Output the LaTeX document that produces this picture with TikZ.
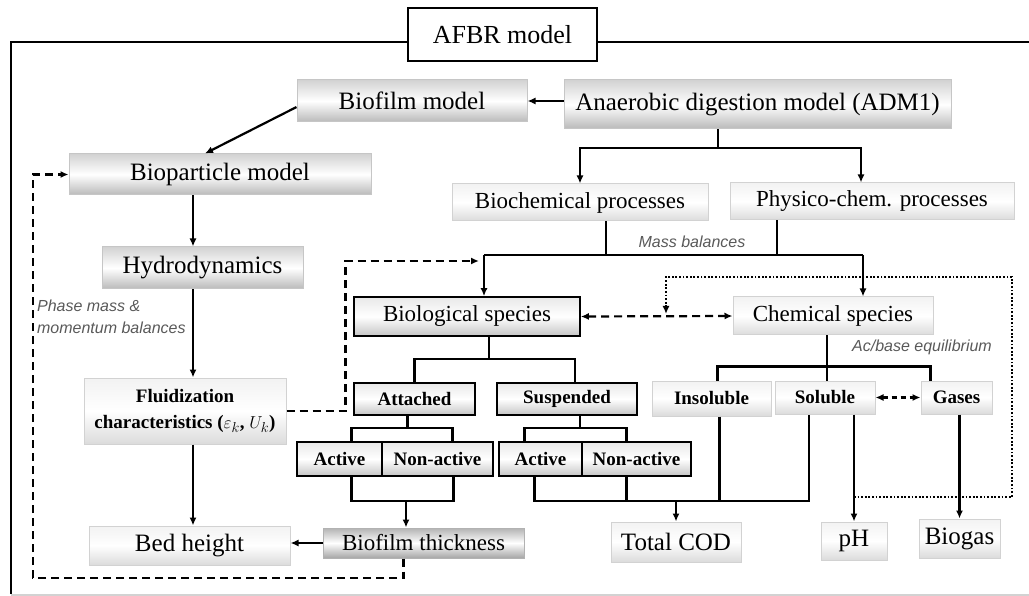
\documentclass[tikz,border=0pt]{standalone}
\usepackage{fontspec}
\setmainfont{Liberation Serif}
\newfontfamily\notefont{Liberation Sans}
\usepackage{amsmath}
\usetikzlibrary{arrows.meta}

\begin{document}
\begin{tikzpicture}[x=1pt, y=-1pt, line width=2.2pt, >={Latex[length=8pt, width=7pt]},
		sz/.style 2 args={minimum width=#1, minimum height=#2, inner sep=0pt, align=center},
		big/.style={font=\fontsize{25}{28}\selectfont},
		mid/.style={font=\fontsize{23}{26}\selectfont},
		sml/.style={font=\fontsize{19}{26}\selectfont\bfseries},
		gbox/.style={draw=gray!45, line width=1pt, top color=gray!35, bottom color=gray!55, middle color=white},
		lbox/.style={draw=gray!35, line width=1pt, top color=gray!10, bottom color=gray!28, middle color=white},
		kbox/.style={draw=black, line width=1.6pt, top color=gray!18, bottom color=gray!45, middle color=white},
		dbox/.style={draw=gray!60, line width=1pt, top color=gray!60, bottom color=gray!70, middle color=white},
		note/.style={font=\notefont\itshape\fontsize{16}{22}\selectfont, text=black!65, inner sep=0pt},
		dsh/.style={dash pattern=on 8pt off 5pt},
		dot/.style={line width=2pt, dash pattern=on 1.8pt off 1.8pt}]
		\useasboundingbox (0,0) rectangle (1029,596);
		\draw[line width=2.6pt] (11,594) -- (11,42) -- (1029,42);
		\draw[gray!35, line width=1.2pt] (11,595) -- (1029,595);
		\node[draw, line width=2.6pt, fill=white, sz={189}{53}, font=\fontsize{26}{30}\selectfont] (title) at (502.5,34.5) {AFBR model};

		\node[gbox, sz={230}{42}, big] (biofilm) at (412,101) {Biofilm model};
		\node[gbox, sz={387}{49}, big] (adm) at (757.5,104.5) {Anaerobic digestion model (ADM1)};
		\node[gbox, sz={302}{41}, big] (biopart) at (220,174.5) {Bioparticle model};
		\node[gbox, sz={201}{42}, big] (hydro) at (202.5,268) {Hydrodynamics};
		\node[lbox, sz={202}{66}, sml] (fluid) at (185,411) {Fluidization\\characteristics ($\varepsilon_k$, $U_k$)};
		\node[lbox, sz={201}{39}, big] (bed) at (189.5,545.5) {Bed height};
		\node[lbox, sz={256}{37}, mid] (biochem) at (580,202.5) {Biochemical processes};
		\node[lbox, sz={284}{37}, mid] (physchem) at (872,201.5) {Physico-chem. processes};
		\node[kbox, sz={226}{39}, mid] (biospec) at (467,316.5) {Biological species};
		\node[lbox, sz={200}{38}, mid] (chemspec) at (833,316) {Chemical species};
		\node[kbox, sz={121}{32}, sml] (attached) at (414.5,399) {Attached};
		\node[kbox, sz={140}{32}, sml] (suspended) at (567,399) {Suspended};
		\node[kbox, sz={85}{34}, sml] (act1) at (339.5,459) {Active};
		\node[kbox, sz={111}{34}, sml] (nonact1) at (437.5,459) {Non-active};
		\node[kbox, sz={83}{34}, sml] (act2) at (540.5,459) {Active};
		\node[kbox, sz={109}{34}, sml] (nonact2) at (636.5,459) {Non-active};
		\node[lbox, sz={119}{35}, sml] (insol) at (711.5,398.5) {Insoluble};
		\node[lbox, sz={100}{33}, sml] (sol) at (825,397.5) {Soluble};
		\node[lbox, sz={71}{33}, sml] (gases) at (956.5,397.5) {Gases};
		\node[dbox, sz={201}{30}, mid] (thick) at (423.5,543) {Biofilm thickness};
		\node[lbox, sz={130}{40}, big] (cod) at (676,542) {Total COD};
		\node[lbox, sz={66}{38}, big] (ph) at (854,541) {pH};
		\node[lbox, sz={81}{39}, big] (biogas) at (959.5,538.5) {Biogas};

		\node[note] (mass) at (692,242) {Mass balances};
		\node[note] (acbase) at (922,347) {Ac/base equilibrium};
		\node[note, anchor=north west, align=left] (phase) at (36,299) {Phase mass \&\\momentum balances};

		\coordinate (lcol) at (193,0);
		\coordinate (admj) at (718,148);
		\coordinate (mbl) at (484,255);
		\coordinate (mbr) at (863,255);
		\coordinate (fb) at (479,261);
		\coordinate (dt) at (666,314);
		\coordinate (tj) at (406,501);
		\coordinate (cj) at (676,501);

		\draw[->] (adm.west |- biofilm.east) -- (biofilm.east);
		\draw[->] (biofilm.183) -- ([xshift=-15]biopart.north);
		\draw[->] (biopart.south -| lcol) -- (hydro.north -| lcol);
		\draw[->] (hydro.south -| lcol) -- (fluid.north -| lcol);
		\draw[->] (fluid.south -| lcol) -- (bed.north -| lcol);
		\draw[->] (thick.west) -- (thick.west -| bed.east);

		\draw (admj |- adm.south) -- (admj);
		\draw[->] (admj) -| (biochem.north);
		\draw[->] (admj) -| ([xshift=-11]physchem.north);
		\draw ([xshift=26]biochem.south) |- (mbl);
		\draw ([xshift=-95]physchem.south) |- (mbr);
		\draw (mbl) -- (mbr);
		\draw[->] (mbl) -- (mbl |- biospec.north);
		\draw[->] (mbr) -- (mbr |- chemspec.north);
		\draw[dsh, ->] (fluid.east) -- ++(59,0) |- (fb);
		\draw[dsh, <->] (biospec.east) -- (chemspec.west);
		\draw[dot, ->] (ph.north |- 0,497) -- (1012,497) -- (1012,277) -| (dt);

		\draw ([xshift=22]biospec.south) -- ++(0,22) coordinate (bsj);
		\draw (attached.north) |- (bsj) -| ([xshift=8]suspended.north);
		\draw ([xshift=-7]attached.south) -- ++(0,12) coordinate (atj);
		\draw ([xshift=12]act1.north) |- (atj) -| ([xshift=15]nonact1.north);
		\draw ([xshift=13]suspended.south) -- ++(0,12) coordinate (suj);
		\draw ([xshift=-16]act2.north) |- (suj) -| ([xshift=-10]nonact2.north);

		\draw ([xshift=-6]chemspec.south) -- ++(0,31) coordinate (csj) -- ([xshift=2]sol.north);
		\draw ([xshift=6]insol.north) |- (csj) -| ([xshift=-26]gases.north);
		\draw[dsh, dash pattern=on 5pt off 4pt, <->] (sol.east) -- (gases.west);

		\draw ([xshift=12]act1.south) |- (tj) -| ([xshift=16]nonact1.south);
		\draw[->] (tj) -- (tj |- thick.north);
		\draw ([xshift=-6]act2.south) |- (cj) -| ([xshift=-16]sol.south);
		\draw ([xshift=-10]nonact2.south) -- ++(0,25);
		\draw ([xshift=8]insol.south) -- ++(0,85);
		\draw[->] (cj) -- (cod.north);
		\draw[->] (ph.north |- sol.south) -- (ph.north);
		\draw[->] (biogas.north |- gases.south) -- (biogas.north);
		\draw[dsh, ->] ([xshift=-20]thick.south) |- (33,578) |- (biopart.west);
	\end{tikzpicture}
\end{document}
